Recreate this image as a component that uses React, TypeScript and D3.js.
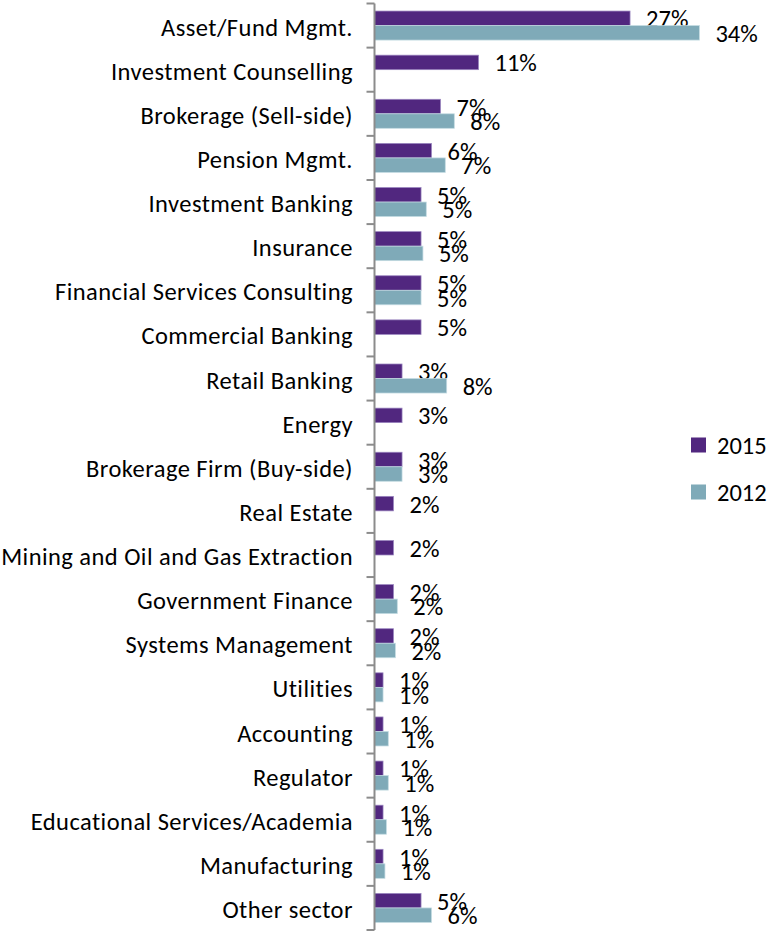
import React from "react";
import * as d3 from "d3";

const categories = [
  "Asset/Fund Mgmt.",
  "Investment Counselling",
  "Brokerage (Sell-side)",
  "Pension Mgmt.",
  "Investment Banking",
  "Insurance",
  "Financial Services Consulting",
  "Commercial Banking",
  "Retail Banking",
  "Energy",
  "Brokerage Firm (Buy-side)",
  "Real Estate",
  "Mining and Oil and Gas Extraction",
  "Government Finance",
  "Systems Management",
  "Utilities",
  "Accounting",
  "Regulator",
  "Educational Services/Academia",
  "Manufacturing",
  "Other sector",
];

const values2015: (number | null)[] = [
  26.9, 10.95, 6.95, 6.0, 4.9, 4.9, 4.9, 4.9, 2.9, 2.9, 2.9, 2.0, 2.0, 2.0, 2.0, 0.9, 0.9, 0.9, 0.9, 0.9, 4.9,
];
const values2012: (number | null)[] = [
  34.2, null, 8.4, 7.45, 5.45, 5.1, 4.9, null, 7.6, null, 2.9, null, null, 2.4, 2.2, 0.9, 1.45, 1.45, 1.25, 1.1, 6.0,
];

const seriesNames = ["2015", "2012"];
const seriesColors = ["#51277f", "#7faab8"];
const seriesStroke = ["#9b86c0", "#c4dbe2"];

const W = 776;
const H = 937;
const FONT = "Carlito, Calibri, Lato, sans-serif";
const FS = 24.5;

export default function App() {
  const axisX = 374.5;
  const x = d3.scaleLinear().domain([0, 35]).range([axisX, axisX + 35 * 9.5]);
  const y = d3.scaleBand().domain(categories).range([3.5, 930]).padding(0);
  const sub = d3
    .scaleBand()
    .domain(seriesNames)
    .range([0, y.bandwidth()])
    .paddingInner(0)
    .paddingOuter(0.52);

  const series = [values2015, values2012];
  const ticks = d3.range(categories.length + 1).map((i) => 3.5 + i * y.step());

  return (
    <svg
      width={W}
      height={H}
      style={{ position: "absolute", left: 0, top: 0, background: "#fff" }}
      fontFamily={FONT}
    >
      {categories.map((c, ci) => (
        <g key={c}>
          {series.map((vals, si) => {
            const v = vals[ci];
            if (v == null) return null;
            const yy = (y(c) as number) + (sub(seriesNames[si]) as number);
            return (
              <g key={si}>
                <rect
                  x={x(0)}
                  y={yy}
                  width={x(v) - x(0)}
                  height={sub.bandwidth()}
                  fill={seriesColors[si]}
                  stroke={seriesStroke[si]}
                  strokeWidth={0.75}
                />
                <text
                  x={x(v) + 16}
                  y={yy + sub.bandwidth() / 2 + 0.5}
                  dy="0.35em"
                  fontSize={FS}
                  fill="#000"
                >
                  {Math.round(v)}%
                </text>
              </g>
            );
          })}
          <text
            x={353}
            y={(y(c) as number) + y.bandwidth() / 2 + 1.5}
            dy="0.35em"
            textAnchor="end"
            fontSize={FS}
            letterSpacing={0.45}
            fill="#000"
          >
            {c}
          </text>
        </g>
      ))}
      <line x1={axisX} x2={axisX} y1={3.5} y2={930} stroke="#8c8c8c" strokeWidth={2} />
      {ticks.map((t, i) => (
        <line key={i} x1={axisX - 8} x2={axisX} y1={t} y2={t} stroke="#8c8c8c" strokeWidth={2} />
      ))}
      {seriesNames.map((s, i) => (
        <g key={s} transform={`translate(691, ${445 + i * 47})`}>
          <rect x={0} y={-7.5} width={15} height={15} fill={seriesColors[i]} />
          <text x={26} y={0} dy="0.35em" fontSize={FS} fill="#000">
            {s}
          </text>
        </g>
      ))}
    </svg>
  );
}
